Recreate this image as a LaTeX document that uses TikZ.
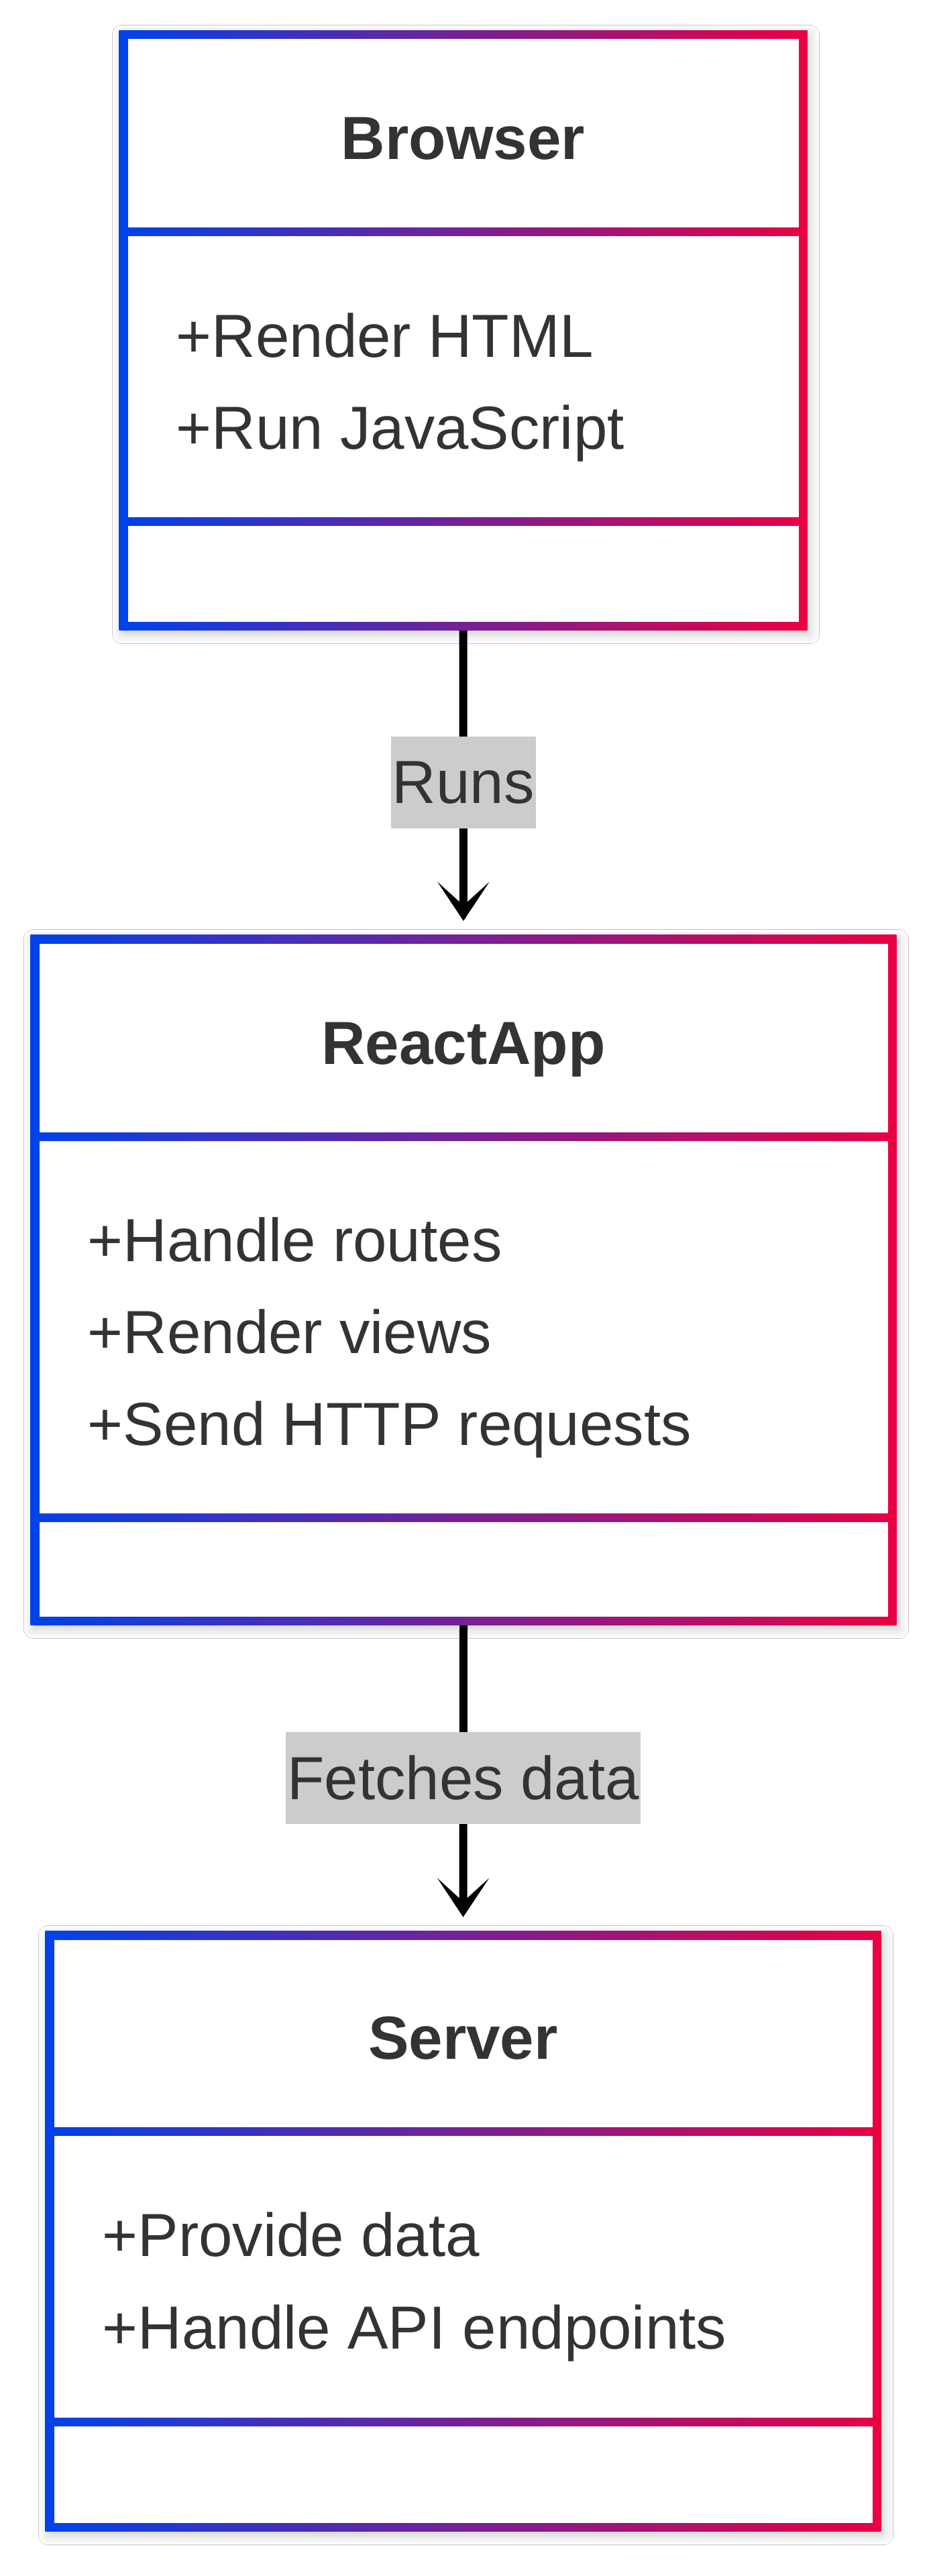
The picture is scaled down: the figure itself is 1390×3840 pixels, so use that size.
\documentclass[tikz,border=0pt]{standalone}
\usepackage{fontspec}
\setmainfont{Liberation Sans}
\usetikzlibrary{arrows.meta, fit, shadows.blur}

\definecolor{gradA}{HTML}{0042EA}
\definecolor{gradB}{HTML}{EA0042}
\definecolor{ink}{HTML}{333333}
\definecolor{labelbg}{HTML}{CCCCCC}

\tikzset{
  classbox/.style={inner sep=0pt, left color=gradA, right color=gradB,
    blur shadow={shadow xshift=0.04cm, shadow yshift=-0.06cm,
      shadow blur radius=0.14cm, shadow opacity=20}},
  classtitle/.style={anchor=base, inner sep=0pt, text=ink,
    font=\fontsize{25.8}{31}\selectfont\bfseries},
  member/.style={anchor=base west, inner sep=0pt, text=ink,
    font=\fontsize{25.8}{31}\selectfont},
  edgelabel/.style={fill=labelbg, text=ink, font=\fontsize{25.8}{31}\selectfont,
    inner xsep=0.02cm, inner ysep=0pt, minimum height=1.37cm},
  assoc/.style={line width=0.12cm,
    -{Stealth[length=0.58cm, width=0.77cm, inset=0.35cm]}, shorten >=0.2cm}
}

\begin{document}
\begin{tikzpicture}[x=0.01cm, y=-0.01cm]
    \fill[white] (0,0) rectangle (1390,3840);
    \useasboundingbox (0,0) rectangle (1390,3840);

    % Class boxes: name / left / right / top / rule 1 / rule 2 / bottom
    \foreach \n/\l/\r/\t/\ra/\rb/\b in {browser/184/1197/52/346/778/933,
        react/52/1330/1400/1694/2262/2416,
        server/74/1307/2885/3177/3610/3767} {
      \node[classbox, fit={(\l-6.5,\t-6.5) (\r+6.5,\b+6.5)}] (\n) {};
      \fill[white] (\l+6.5,\t+6.5) rectangle (\r-6.5,\ra-6.5);
      \fill[white] (\l+6.5,\ra+6.5) rectangle (\r-6.5,\rb-6.5);
      \fill[white] (\l+6.5,\rb+6.5) rectangle (\r-6.5,\b-6.5);
    }

    % Browser
    \node[classtitle] (browser-name) at (690.5,238) {Browser};
    \node[member] (browser-html) at (262,533) {+Render HTML};
    \node[member] (browser-js) at (262,670) {+Run JavaScript};

    % ReactApp
    \node[classtitle] (react-name) at (691,1586) {ReactApp};
    \node[member] (react-routes) at (130,1880) {+Handle routes};
    \node[member] (react-views) at (130,2017) {+Render views};
    \node[member] (react-http) at (130,2154) {+Send HTTP requests};

    % Server
    \node[classtitle] (server-name) at (690.5,3069) {Server};
    \node[member] (server-data) at (152,3363) {+Provide data};
    \node[member] (server-api) at (152,3501) {+Handle API endpoints};

    % Relations
    \draw[assoc] (browser.south) -- (react.north)
      node[edgelabel, pos=0.5] (runs) {Runs};
    \draw[assoc] (react.south) -- (server.north)
      node[edgelabel, pos=0.5] (fetches) {Fetches data};
\end{tikzpicture}
\end{document}
